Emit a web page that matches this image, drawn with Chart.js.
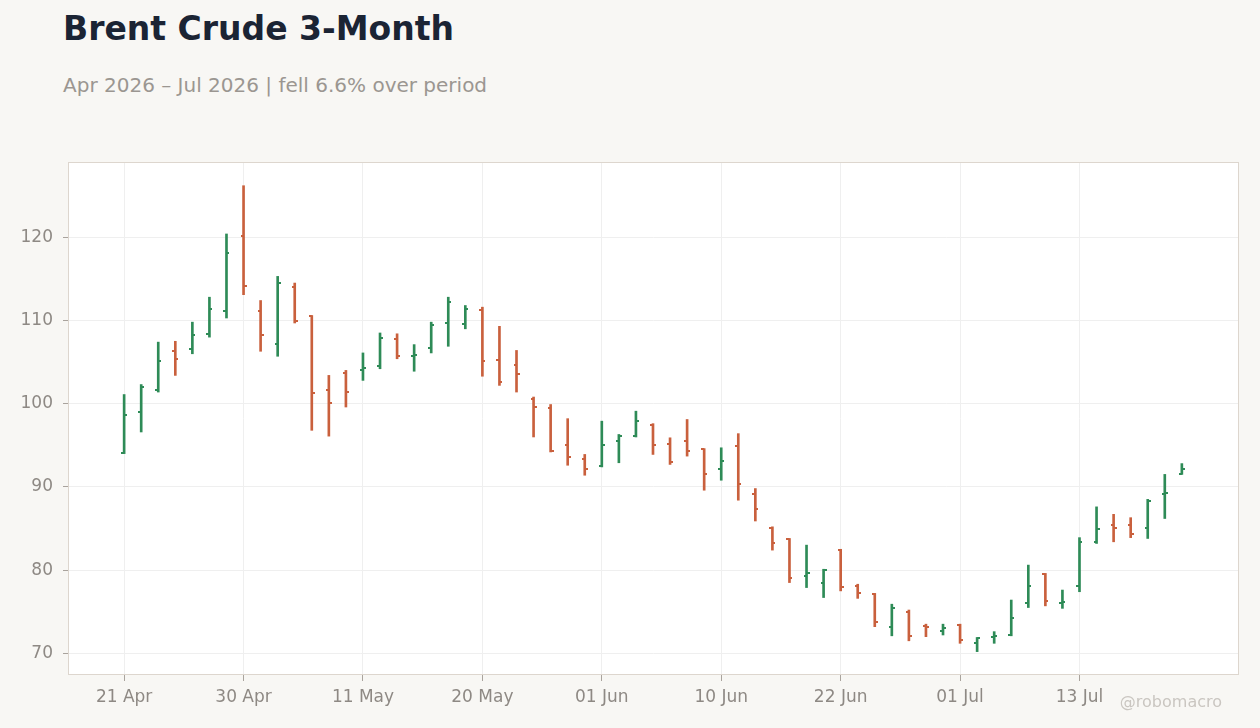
<!DOCTYPE html>
<html>
<head>
<meta charset="utf-8">
<title>Brent Crude 3-Month</title>
<script src="https://cdn.jsdelivr.net/npm/chart.js@4.4.1/dist/chart.umd.min.js"></script>
<style>
  html, body { margin: 0; padding: 0; background: #f8f7f4; }
  body { width: 1260px; height: 728px; position: relative; overflow: hidden; font-family: 'DejaVu Sans', sans-serif; }
  #title { position: absolute; left: 63px; top: 12px; font-size: 33px; line-height: 33px; font-weight: bold; color: #1b2434; white-space: nowrap; }
  #subtitle { position: absolute; left: 63px; top: 75px; font-size: 20px; line-height: 20px; color: #9b9691; white-space: nowrap; }
  #credit { position: absolute; right: 38px; top: 694px; font-size: 16px; line-height: 16px; color: #cac6c1; white-space: nowrap; }
  canvas { position: absolute; left: 0; top: 0; }
</style>
</head>
<body>
<div id="title">Brent Crude 3-Month</div>
<div id="subtitle">Apr 2026 – Jul 2026 | fell 6.6% over period</div>
<canvas id="ohlcChart" width="1260" height="728"></canvas>
<div id="credit">@robomacro</div>
<script>
// trading days (weekends and holidays left out)
const dates = [
  '2026-04-21', '2026-04-22', '2026-04-23', '2026-04-24', '2026-04-27', '2026-04-28', '2026-04-29', '2026-04-30',
  '2026-05-01', '2026-05-04', '2026-05-05', '2026-05-06', '2026-05-07', '2026-05-08', '2026-05-11', '2026-05-12',
  '2026-05-13', '2026-05-14', '2026-05-15', '2026-05-18', '2026-05-19', '2026-05-20', '2026-05-21', '2026-05-22',
  '2026-05-26', '2026-05-27', '2026-05-28', '2026-05-29', '2026-06-01', '2026-06-02', '2026-06-03', '2026-06-04',
  '2026-06-05', '2026-06-08', '2026-06-09', '2026-06-10', '2026-06-11', '2026-06-12', '2026-06-15', '2026-06-16',
  '2026-06-17', '2026-06-18', '2026-06-22', '2026-06-23', '2026-06-24', '2026-06-25', '2026-06-26', '2026-06-29',
  '2026-06-30', '2026-07-01', '2026-07-02', '2026-07-06', '2026-07-07', '2026-07-08', '2026-07-09', '2026-07-10',
  '2026-07-13', '2026-07-14', '2026-07-15', '2026-07-16', '2026-07-17', '2026-07-20', '2026-07-21'
];

const open = [
  94.1, 99.0, 101.6, 106.3, 106.6, 108.4, 111.2, 120.1, 111.2, 107.2, 114.0, 110.5, 101.6, 103.7, 104.1, 104.5,
  107.8, 105.7, 106.7, 109.7, 109.6, 111.3, 105.3, 104.7, 100.6, 99.5, 95.0, 93.4, 92.5, 95.5, 96.1, 97.4,
  95.1, 95.5, 94.5, 92.2, 94.9, 89.2, 85.0, 83.7, 79.3, 78.5, 82.4, 78.1, 77.1, 73.2, 75.0, 73.3,
  72.7, 73.4, 71.2, 72.0, 72.2, 76.1, 79.5, 76.0, 78.1, 83.4, 85.4, 85.4, 85.0, 89.1, 91.6
];
const high = [
  101.1, 102.3, 107.4, 107.5, 109.8, 112.8, 120.4, 126.2, 112.4, 115.3, 114.5, 110.6, 103.4, 104.0, 106.1, 108.5,
  108.4, 107.1, 109.8, 112.8, 111.8, 111.6, 109.3, 106.4, 100.8, 99.9, 98.2, 93.9, 97.9, 96.3, 99.1, 97.6,
  95.9, 98.1, 94.6, 94.7, 96.4, 89.8, 85.2, 83.8, 83.0, 80.1, 82.5, 78.3, 77.2, 75.9, 75.2, 73.5,
  73.5, 73.5, 71.9, 72.6, 76.4, 80.6, 79.6, 77.6, 83.9, 87.6, 86.7, 86.3, 88.5, 91.5, 92.8
];
const low = [
  94.0, 96.6, 101.4, 103.4, 106.0, 108.0, 110.3, 113.1, 106.3, 105.7, 109.7, 96.8, 96.1, 99.6, 102.8, 104.2,
  105.4, 103.9, 106.1, 106.9, 109.0, 103.3, 102.2, 101.4, 96.0, 94.2, 92.6, 91.4, 92.4, 92.9, 96.0, 93.9,
  92.7, 93.7, 89.6, 90.8, 88.4, 85.9, 82.4, 78.5, 77.9, 76.7, 77.5, 76.6, 73.2, 72.1, 71.5, 72.0,
  72.2, 71.2, 70.2, 71.2, 72.1, 75.5, 75.7, 75.4, 77.4, 83.2, 83.4, 83.9, 83.8, 86.2, 91.5
];
const close = [
  98.6, 102.0, 105.1, 105.4, 108.3, 111.4, 118.1, 114.2, 108.3, 114.5, 109.9, 101.3, 100.1, 101.4, 104.3, 107.9,
  105.7, 105.9, 109.4, 112.2, 111.4, 105.1, 102.6, 103.6, 99.6, 94.3, 93.6, 92.1, 95.0, 96.1, 97.9, 95.0,
  93.0, 94.3, 91.5, 93.1, 90.4, 87.3, 83.2, 79.1, 79.7, 80.0, 78.0, 77.2, 73.8, 75.4, 72.1, 73.1,
  73.0, 71.6, 71.8, 72.1, 74.3, 78.1, 76.3, 76.2, 83.4, 84.9, 85.0, 84.3, 88.3, 89.3, 92.1
];

// every 7th trading day gets a label
const xTickIndex = [0, 7, 14, 21, 28, 35, 42, 49, 56];
const yTickValues = [70, 80, 90, 100, 110, 120];

const UP = '#2e8b57';
const DOWN = '#c9603d';
const MONTHS = ['Jan', 'Feb', 'Mar', 'Apr', 'May', 'Jun', 'Jul', 'Aug', 'Sep', 'Oct', 'Nov', 'Dec'];

function fmtDate(s) {
  const p = s.split('-');
  return p[2] + ' ' + MONTHS[parseInt(p[1], 10) - 1];
}

const colors = open.map((o, i) => (close[i] >= o ? UP : DOWN));

// small canvases used as point styles for the open (left) and close (right) ticks
function tickImage(color, side) {
  const c = document.createElement('canvas');
  c.width = 6;
  c.height = 2;
  const g = c.getContext('2d');
  g.fillStyle = color;
  g.fillRect(side === 'left' ? 0 : 3, 0, 3, 2);
  return c;
}
const openImg = { up: tickImage(UP, 'left'), down: tickImage(DOWN, 'left') };
const closeImg = { up: tickImage(UP, 'right'), down: tickImage(DOWN, 'right') };

const plotFrame = {
  id: 'plotFrame',
  beforeDraw(chart) {
    const { ctx, chartArea: a } = chart;
    ctx.save();
    ctx.fillStyle = '#ffffff';
    ctx.fillRect(a.left, a.top, a.right - a.left, a.bottom - a.top);
    ctx.restore();
  },
  afterDraw(chart) {
    const { ctx, chartArea: a } = chart;
    ctx.save();
    ctx.strokeStyle = '#ddd6ce';
    ctx.lineWidth = 1;
    ctx.strokeRect(a.left + 0.5, a.top + 0.5, a.right - a.left - 1, a.bottom - a.top - 1);
    ctx.restore();
  }
};

Chart.defaults.font.family = "'DejaVu Sans', sans-serif";
Chart.defaults.color = '#8e8984';

const ctx = document.getElementById('ohlcChart').getContext('2d');
new Chart(ctx, {
  type: 'bar',
  data: {
    datasets: [
      {
        label: 'High-Low',
        data: dates.map((d, i) => ({ x: i, y: [low[i], high[i]] })),
        backgroundColor: colors,
        borderWidth: 0,
        barThickness: 2,
        grouped: false,
        order: 2
      },
      {
        type: 'scatter',
        label: 'Open',
        data: dates.map((d, i) => ({ x: i, y: open[i] })),
        pointStyle: open.map((o, i) => (close[i] >= o ? openImg.up : openImg.down)),
        pointRadius: 3,
        pointHoverRadius: 3,
        order: 1
      },
      {
        type: 'scatter',
        label: 'Close',
        data: dates.map((d, i) => ({ x: i, y: close[i] })),
        pointStyle: close.map((c, i) => (c >= open[i] ? closeImg.up : closeImg.down)),
        pointRadius: 3,
        pointHoverRadius: 3,
        order: 1
      }
    ]
  },
  options: {
    responsive: false,
    animation: false,
    devicePixelRatio: 1,
    events: [],
    layout: { padding: { left: 0, top: 162, right: 21, bottom: 0 } },
    plugins: {
      legend: { display: false },
      tooltip: { enabled: false },
      title: { display: false }
    },
    scales: {
      x: {
        type: 'linear',
        min: -3.29,
        max: 65.35,
        offset: false,
        afterBuildTicks: (scale) => {
          scale.ticks = xTickIndex.map(v => ({ value: v }));
        },
        afterFit: (scale) => { scale.height = 53; },
        ticks: {
          autoSkip: false,
          maxRotation: 0,
          padding: 6,
          font: { size: 17 },
          color: '#8e8984',
          callback: (v) => fmtDate(dates[v])
        },
        grid: {
          offset: false,
          color: '#efefef',
          tickColor: '#a9a39d',
          tickLength: 6,
          drawTicks: true
        },
        border: { display: false }
      },
      y: {
        type: 'linear',
        min: 67.39,
        max: 129.05,
        beginAtZero: false,
        afterBuildTicks: (scale) => {
          scale.ticks = yTickValues.map(v => ({ value: v }));
        },
        afterFit: (scale) => { scale.width = 68; },
        ticks: {
          padding: 10,
          font: { size: 17 },
          color: '#8e8984'
        },
        grid: {
          color: '#efefef',
          tickColor: '#a9a39d',
          tickLength: 5,
          drawTicks: true
        },
        border: { display: false }
      }
    }
  },
  plugins: [plotFrame]
});
</script>
</body>
</html>
